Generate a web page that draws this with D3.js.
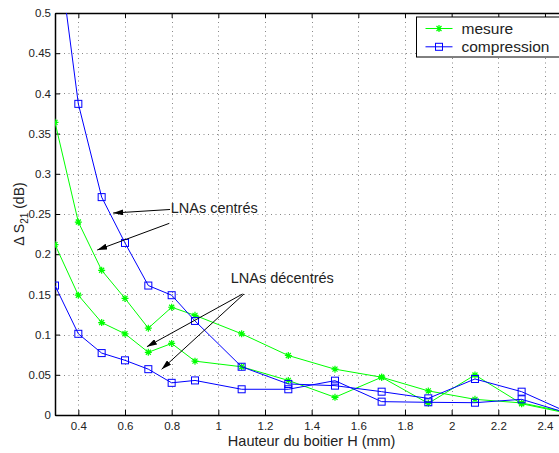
<!DOCTYPE html>
<html>
<head>
<meta charset="utf-8">
<script src="https://cdn.jsdelivr.net/npm/d3@7"></script>
<style>
  body { margin: 0; background: #fff; }
  svg { display: block; font-family: Arial, 'Liberation Sans', Helvetica, sans-serif; }
</style>
</head>
<body>
<div id="chart"></div>
<script>
// hauteur du boitier H (mm)
const heights = [0.3, 0.4, 0.5, 0.6, 0.7, 0.8, 0.9, 1.1, 1.3, 1.5, 1.7, 1.9, 2.1, 2.3, 2.5]

// Delta S21 (dB)
const mesureCentres = [0.364, 0.240, 0.180, 0.145, 0.108, 0.134, 0.124, 0.101, 0.074, 0.057, 0.047, 0.030, 0.0195, 0.015, 0.003]
const mesureDecentres = [0.212, 0.149, 0.115, 0.101, 0.078, 0.089, 0.067, 0.060, 0.043, 0.022, 0.047, 0.0145, 0.0498, 0.014, 0.002]
const compressionCentres = [0.61, 0.387, 0.271, 0.214, 0.161, 0.149, 0.117, 0.060, 0.0386, 0.0365, 0.029, 0.0207, 0.0448, 0.029, 0.003]
const compressionDecentres = [0.161, 0.101, 0.077, 0.068, 0.057, 0.040, 0.043, 0.032, 0.032, 0.0427, 0.0166, 0.0158, 0.0153, 0.0195, 0.002]

const xTicks = [0.4, 0.6, 0.8, 1, 1.2, 1.4, 1.6, 1.8, 2, 2.2, 2.4]
const yTicks = [0, 0.05, 0.1, 0.15, 0.2, 0.25, 0.3, 0.35, 0.4, 0.45, 0.5]
const legendLabels = ['mesure', 'compression']

const green = '#00ff00'
const blue = '#0000ff'

const width = 559
const height = 453
const mLeft = 55, mRight = 568.3, mTop = 13, mBottom = 415

const xScale = d3.scaleLinear().domain([0.3, 2.5]).range([mLeft, mRight])
const yScale = d3.scaleLinear().domain([0, 0.5]).range([mBottom, mTop])

const svg = d3.select('#chart')
  .append('svg')
    .attr('width', width)
    .attr('height', height)

const defs = svg.append('defs')
defs.append('clipPath').attr('id', 'clip')
  .append('rect')
    .attr('x', mLeft).attr('y', mTop)
    .attr('width', mRight - mLeft).attr('height', mBottom - mTop)

defs.append('marker')
    .attr('id', 'head')
    .attr('viewBox', '0 0 10 6')
    .attr('refX', 10).attr('refY', 3)
    .attr('markerWidth', 10).attr('markerHeight', 6)
    .attr('markerUnits', 'userSpaceOnUse')
    .attr('orient', 'auto')
  .append('path')
    .attr('d', 'M0,0L10,3L0,6Z')
    .attr('fill', '#000')

// grille pointillee
const grid = svg.append('g').attr('class', 'grid')
grid.selectAll('.vx')
  .data(xTicks).enter().append('line')
    .attr('x1', d => Math.round(xScale(d)) + 0.5)
    .attr('x2', d => Math.round(xScale(d)) + 0.5)
    .attr('y1', mTop).attr('y2', mBottom)
grid.selectAll('.hy')
  .data(yTicks.slice(1, -1)).enter().append('line')
    .attr('x1', mLeft).attr('x2', mRight)
    .attr('y1', d => Math.round(yScale(d)) + 0.5)
    .attr('y2', d => Math.round(yScale(d)) + 0.5)
grid.selectAll('line')
    .attr('stroke', '#888')
    .attr('stroke-width', 1)
    .attr('stroke-dasharray', '1,3.5')

// axes (ticks vers l'interieur, comme matlab)
const xAxis = d3.axisBottom(xScale).tickValues(xTicks).tickFormat(d3.format('~g')).tickSizeInner(-5).tickSizeOuter(0).tickPadding(7)
svg.append('g')
    .attr('transform', `translate(0, ${mBottom})`)
    .call(xAxis)
const xTop = d3.axisTop(xScale).tickValues(xTicks).tickFormat('').tickSizeInner(-5).tickSizeOuter(0)
svg.append('g')
    .attr('transform', `translate(0, ${mTop})`)
    .call(xTop)

const yAxis = d3.axisLeft(yScale).tickValues(yTicks).tickFormat(d3.format('~g')).tickSizeInner(-5).tickSizeOuter(0).tickPadding(4)
svg.append('g')
    .attr('transform', `translate(${mLeft}, 0)`)
    .call(yAxis)

svg.selectAll('.domain').attr('stroke', '#000').attr('stroke-width', 1.5)
svg.selectAll('.tick line').attr('stroke', '#000')
svg.selectAll('.tick text').attr('font-size', 11.5).attr('fill', '#222').attr('font-family', 'Arial, Liberation Sans, sans-serif')

svg.append('text')
    .text('Hauteur du boitier H (mm)')
    .attr('text-anchor', 'middle')
    .attr('x', (mLeft + mRight) / 2)
    .attr('y', 446)
    .attr('font-size', 14.5)
    .attr('fill', '#222')

const yLabel = svg.append('text')
    .attr('text-anchor', 'middle')
    .attr('transform', `translate(24, ${(mTop + mBottom) / 2}) rotate(-90)`)
    .attr('font-size', 14)
    .attr('fill', '#222')
yLabel.append('tspan').text('Δ S')
yLabel.append('tspan').text('21').attr('font-size', 10).attr('dy', 4)
yLabel.append('tspan').text(' (dB)').attr('dy', -4)

// courbes
const series = [
  { values: mesureCentres, color: green, mark: 'star' },
  { values: mesureDecentres, color: green, mark: 'star' },
  { values: compressionCentres, color: blue, mark: 'square' },
  { values: compressionDecentres, color: blue, mark: 'square' }
]

const line = d3.line()
  .x((d, i) => xScale(heights[i]))
  .y(d => yScale(d))

const plot = svg.append('g').attr('clip-path', 'url(#clip)')

const starPath = 'M-3.5,0H3.5M0,-3.5V3.5M-2.5,-2.5L2.5,2.5M-2.5,2.5L2.5,-2.5'

function drawMark(g, mark, color) {
  if (mark === 'star') {
    g.append('path').attr('d', starPath).attr('stroke', color).attr('stroke-width', 1.2).attr('fill', 'none')
  } else {
    g.append('rect').attr('x', -3.5).attr('y', -3.5).attr('width', 7).attr('height', 7)
      .attr('stroke', color).attr('stroke-width', 1).attr('fill', 'none')
  }
}

series.forEach(s => {
  plot.append('path')
      .datum(s.values)
      .attr('d', line)
      .attr('fill', 'none')
      .attr('stroke', s.color)
      .attr('stroke-width', 1)
  plot.selectAll(null)
    .data(s.values).enter()
    .append('g')
      .attr('transform', (d, i) => `translate(${xScale(heights[i])}, ${yScale(d)})`)
      .each(function () { drawMark(d3.select(this), s.mark, s.color) })
})

// annotations
const notes = [
  { text: 'LNAs centrés', x: 0.796, y: 0.2515 },
  { text: 'LNAs décentrés', x: 1.053, y: 0.1646 }
]
const arrows = [
  { x1: 0.793, y1: 0.2556, x2: 0.549, y2: 0.2512 },
  { x1: 0.790, y1: 0.2384, x2: 0.481, y2: 0.2052 },
  { x1: 1.104, y1: 0.1505, x2: 0.694, y2: 0.085 },
  { x1: 1.110, y1: 0.1505, x2: 0.757, y2: 0.0568 }
]

svg.selectAll('.arrow')
  .data(arrows).enter().append('line')
    .attr('x1', d => xScale(d.x1)).attr('y1', d => yScale(d.y1))
    .attr('x2', d => xScale(d.x2)).attr('y2', d => yScale(d.y2))
    .attr('stroke', '#000')
    .attr('stroke-width', 1)
    .attr('marker-end', 'url(#head)')

svg.selectAll('.note')
  .data(notes).enter().append('text')
    .text(d => d.text)
    .attr('x', d => xScale(d.x))
    .attr('y', d => yScale(d.y))
    .attr('font-size', 14.5)
    .attr('fill', '#222')

// legende (le cadre deborde a droite, comme l'original)
const legend = svg.append('g').attr('transform', 'translate(416.5, 17)')
legend.append('rect')
    .attr('width', 150).attr('height', 40)
    .attr('fill', '#fff').attr('stroke', '#000').attr('stroke-width', 1)
const legendItems = [
  { label: legendLabels[0], color: green, mark: 'star' },
  { label: legendLabels[1], color: blue, mark: 'square' }
]
legendItems.forEach((item, i) => {
  const row = legend.append('g').attr('transform', `translate(0, ${11.5 + i * 18.3})`)
  row.append('line').attr('x1', 9).attr('x2', 36).attr('stroke', item.color).attr('stroke-width', 1)
  drawMark(row.append('g').attr('transform', 'translate(22.5, 0)'), item.mark, item.color)
  row.append('text')
      .text(item.label)
      .attr('x', 45)
      .attr('y', 5.5)
      .attr('font-size', 15.5)
      .attr('fill', '#222')
})
</script>
</body>
</html>
